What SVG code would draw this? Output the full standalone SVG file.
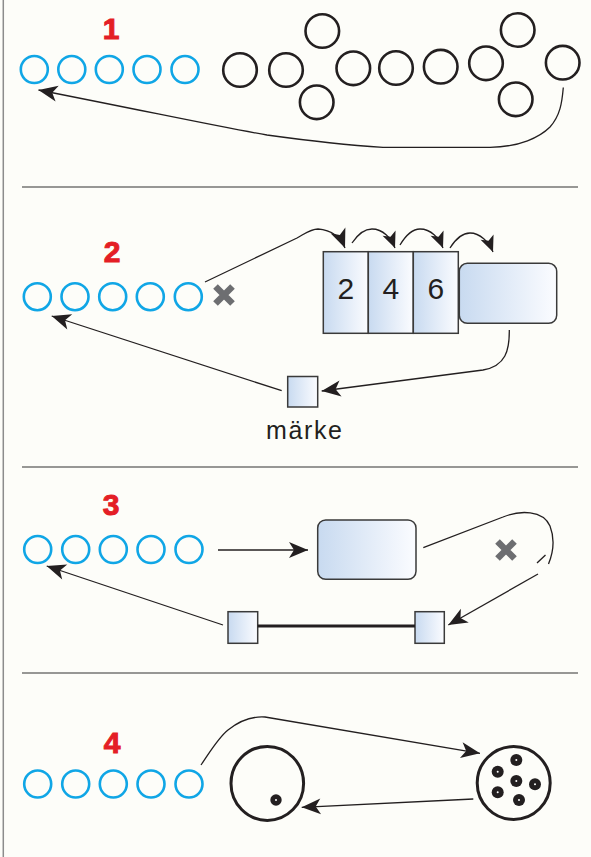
<svg xmlns="http://www.w3.org/2000/svg" width="591" height="857" viewBox="0 0 591 857">
<style>
.bg{fill:#fdfdf9}
.num{font-family:"Liberation Sans",Arial,sans-serif;font-weight:bold;font-size:30px;fill:#e41e26;stroke:#e41e26;stroke-width:1;text-anchor:middle}
.dig{font-family:"Liberation Sans",Arial,sans-serif;font-size:30px;fill:#231f20;text-anchor:middle}
.lbl{font-family:"Liberation Sans",Arial,sans-serif;font-size:25px;fill:#231f20}
.bc{fill:none;stroke:#10a6e6;stroke-width:2.6}
.kc{fill:none;stroke:#231f20;stroke-width:2.6}
.big{fill:none;stroke:#231f20;stroke-width:3}
.sep{stroke:#333;stroke-width:1.2}
.conn{fill:none;stroke:#231f20;stroke-width:1.3}
.box{fill:url(#grad);stroke:#3a3a3a;stroke-width:1.5}
.x{stroke:#6d6e71;stroke-width:6.5}
.dot{fill:#231f20}
.hole{fill:#fff}
</style>
<defs>
<linearGradient id="grad" x1="0" y1="0" x2="1" y2="0">
<stop offset="0" stop-color="#c8daf0"/>
<stop offset="1" stop-color="#fbfcff"/>
</linearGradient>
<marker id="ah" markerUnits="userSpaceOnUse" markerWidth="24" markerHeight="20" viewBox="-21 -10 24 20" refX="0" refY="0" orient="auto">
<path d="M0,0 L-19,-8 L-14,0 L-19,8 Z" fill="#231f20"/>
</marker>
<marker id="ahs" markerUnits="userSpaceOnUse" markerWidth="20" markerHeight="18" viewBox="-18 -9 20 18" refX="0" refY="0" orient="auto">
<path d="M0,0 L-16,-7 L-12,0 L-16,7 Z" fill="#231f20"/>
</marker>
</defs>
<rect class="bg" x="0" y="0" width="591" height="857"/>
<line x1="3.3" y1="0" x2="3.3" y2="857" stroke="#8c8c8c" stroke-width="1.5"/>
<g id="separators">
<line class="sep" x1="22" y1="187" x2="578" y2="187"/>
<line class="sep" x1="22" y1="467" x2="578" y2="467"/>
<line class="sep" x1="22" y1="673" x2="578" y2="673"/>
</g>

<!-- Section 1 -->
<g id="s1-label"><text class="num" x="111" y="39">1</text></g>
<g id="s1-blue">
<circle class="bc" cx="34.3" cy="69.5" r="13.5"/>
<circle class="bc" cx="71.8" cy="69.5" r="13.5"/>
<circle class="bc" cx="109.3" cy="69.5" r="13.5"/>
<circle class="bc" cx="147" cy="69.5" r="13.5"/>
<circle class="bc" cx="185" cy="69.5" r="13.5"/>
</g>
<g id="s1-black">
<circle class="kc" cx="240" cy="70" r="16.8"/>
<circle class="kc" cx="286" cy="70" r="16.8"/>
<circle class="kc" cx="322.3" cy="31" r="16.8"/>
<circle class="kc" cx="316.7" cy="102.3" r="16.8"/>
<circle class="kc" cx="353.3" cy="68.3" r="16.8"/>
<circle class="kc" cx="396" cy="68" r="16.8"/>
<circle class="kc" cx="440.7" cy="66.7" r="16.8"/>
<circle class="kc" cx="486" cy="63.3" r="16.8"/>
<circle class="kc" cx="517.7" cy="30" r="16.8"/>
<circle class="kc" cx="515.7" cy="99.3" r="16.8"/>
<circle class="kc" cx="562.7" cy="62.7" r="16.8"/>
</g>

<!-- Section 2 -->
<g id="s2-label"><text class="num" x="112" y="262">2</text></g>
<g id="s2-blue">
<circle class="bc" cx="37.3" cy="296.7" r="13.5"/>
<circle class="bc" cx="75" cy="296.7" r="13.5"/>
<circle class="bc" cx="112.7" cy="296.7" r="13.5"/>
<circle class="bc" cx="150.3" cy="296.7" r="13.5"/>
<circle class="bc" cx="188.3" cy="296.7" r="13.5"/>
</g>
<g id="s2-x"><path class="x" d="M215.5,286.5 L232.5,303.5 M232.5,286.5 L215.5,303.5"/></g>
<g id="s2-box2"><rect class="box" x="323.3" y="251.7" width="45" height="81.6"/><text class="dig" x="345.8" y="299">2</text></g>
<g id="s2-box4"><rect class="box" x="368.3" y="251.7" width="45" height="81.6"/><text class="dig" x="390.8" y="299">4</text></g>
<g id="s2-box6"><rect class="box" x="413.3" y="251.7" width="45" height="81.6"/><text class="dig" x="435.8" y="299">6</text></g>
<g id="s2-rrect"><rect class="box" x="459.3" y="263.3" width="97.4" height="60" rx="8"/></g>
<g id="s2-marke">
<rect class="box" x="287.7" y="376.5" width="30" height="30.5"/>
<text class="lbl" x="266" y="439" textLength="76" lengthAdjust="spacing">märke</text>
</g>

<!-- Section 3 -->
<g id="s3-label"><text class="num" x="111" y="515">3</text></g>
<g id="s3-blue">
<circle class="bc" cx="37.7" cy="549.5" r="13.5"/>
<circle class="bc" cx="75.7" cy="549.5" r="13.5"/>
<circle class="bc" cx="113.3" cy="549.5" r="13.5"/>
<circle class="bc" cx="151" cy="549.5" r="13.5"/>
<circle class="bc" cx="189" cy="549.5" r="13.5"/>
</g>
<g id="s3-rrect"><rect class="box" x="317.7" y="520" width="98.3" height="59.3" rx="8"/></g>
<g id="s3-x"><path class="x" d="M497.5,541.5 L514.5,558.5 M514.5,541.5 L497.5,558.5"/></g>
<g id="s3-sq1"><rect class="box" x="228" y="611.7" width="29.7" height="31.6"/></g>
<g id="s3-sq2"><rect class="box" x="415" y="611.7" width="29.3" height="31.6"/></g>

<!-- Section 4 -->
<g id="s4-label"><text class="num" x="112" y="753">4</text></g>
<g id="s4-blue">
<circle class="bc" cx="37.7" cy="784" r="13.5"/>
<circle class="bc" cx="75.7" cy="784" r="13.5"/>
<circle class="bc" cx="113.3" cy="784" r="13.5"/>
<circle class="bc" cx="151" cy="784" r="13.5"/>
<circle class="bc" cx="189" cy="784" r="13.5"/>
</g>
<g id="s4-left">
<ellipse class="big" cx="267.3" cy="783.4" rx="36.3" ry="37"/>
<circle class="dot" cx="276" cy="800" r="5.7"/><circle class="hole" cx="276" cy="800" r="1"/>
</g>
<g id="s4-right">
<ellipse class="big" cx="513.7" cy="783" rx="36.5" ry="36.5"/>
<circle class="dot" cx="516.3" cy="760" r="6"/><circle class="hole" cx="516.3" cy="760" r="1"/>
<circle class="dot" cx="497.7" cy="771.7" r="6"/><circle class="hole" cx="497.7" cy="771.7" r="1"/>
<circle class="dot" cx="516.3" cy="781" r="6"/><circle class="hole" cx="516.3" cy="781" r="1"/>
<circle class="dot" cx="535" cy="784.3" r="6"/><circle class="hole" cx="535" cy="784.3" r="1"/>
<circle class="dot" cx="497.7" cy="792.3" r="6"/><circle class="hole" cx="497.7" cy="792.3" r="1"/>
<circle class="dot" cx="519" cy="800" r="6"/><circle class="hole" cx="519" cy="800" r="1"/>
</g>

<g id="connectors">
<!-- section 1 -->
<path class="conn" marker-end="url(#ah)" d="M563.3,87.5 C562,103 560,116 550,127 C540,137 520,147 490,147.3 L383,147.3 C345,145 310,141 267,135 C225,128 170,116 38.5,90"/>
<!-- section 2 -->
<path class="conn" marker-end="url(#ah)" d="M205,282 L297,238 C306,233 311,229 318,229 C332,230 341,238 345,248"/>
<path class="conn" marker-end="url(#ahs)" d="M352,243 C358,234 365,229 372,229 C383,229 391,238 395,248"/>
<path class="conn" marker-end="url(#ahs)" d="M400,245 C406,235 413,229 420,229 C431,229 439,238 443,248"/>
<path class="conn" marker-end="url(#ahs)" d="M450,248 C455,240 462,233 470,233 C480,233 489,242 493,252"/>
<path class="conn" marker-end="url(#ah)" d="M509.3,330 C509.5,350 506,366 483,370 L321.7,391"/>
<path class="conn" marker-end="url(#ah)" d="M281.7,390.7 L51.7,316"/>
<!-- section 3 -->
<path class="conn" marker-end="url(#ah)" d="M218,550 L308,550"/>
<path class="conn" marker-end="url(#ah)" d="M223,625 L46.7,566"/>
<line x1="257.7" y1="626" x2="415" y2="626" stroke="#231f20" stroke-width="2.8"/>
<path class="conn" d="M423.3,547.7 L503,517 C520,510 543,510 550,526 C555,539 553,553 548.5,564"/>
<path class="conn" d="M537,563 L545.5,555"/>
<path class="conn" marker-end="url(#ah)" d="M538,574 L448.3,625"/>
<!-- section 4 -->
<path class="conn" marker-end="url(#ah)" d="M201,765 C210,752 218,738 228,730 C238,722 250,716 265,717 L480,753.3"/>
<path class="conn" marker-end="url(#ah)" d="M473.3,799 L301.7,807.3"/>
</g>
</svg>
